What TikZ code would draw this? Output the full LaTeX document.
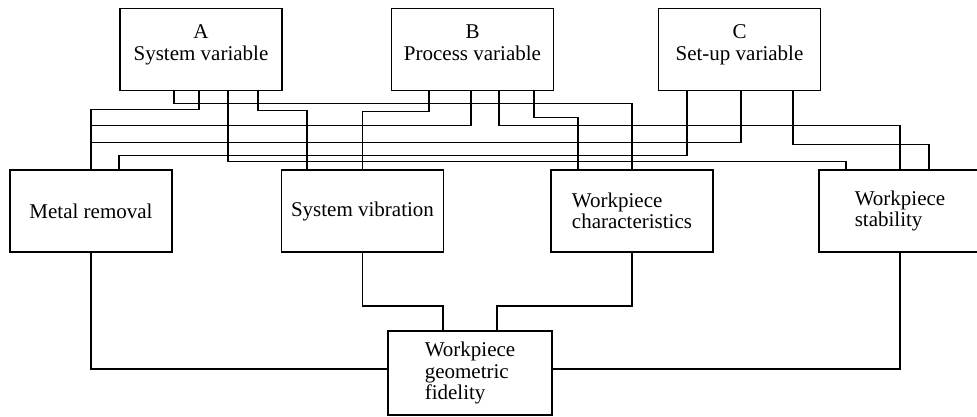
\documentclass[tikz,border=0pt]{standalone}
\usepackage{fontspec}
\setmainfont{Liberation Serif}
\usetikzlibrary{calc}

\begin{document}
\begin{tikzpicture}[
		x=1pt, y=-1pt,
		box/.style={draw, line width=1.8pt, minimum width=162pt, minimum height=82pt,
			font=\fontsize{21}{21.5}\selectfont},
		varbox/.style={box, align=center, text depth=14pt},
		wire/.style={line width=1.4pt}
	]
	\useasboundingbox (0,0) rectangle (977,417);

	\node[varbox] (sysvar) at (201,49.5) {A\\System variable};
	\node[varbox] (procvar) at (472.5,49.5) {B\\Process variable};
	\node[varbox] (setvar) at (739.5,49.5) {C\\Set-up variable};

	\node[box] (metal) at (91,211) {Metal removal};
	\node[box] (vib) at (362.5,211) {System vibration};
	\node[box, align=left] (wpchar) at (632,211) {Workpiece\\characteristics};
	\node[box, align=left] (wpstab) at (900,211) {Workpiece\\stability};

	\node[box, align=left, minimum width=164pt, minimum height=84pt] (fidelity) at (470,373)
		{Workpiece\\geometric\\fidelity};

	% A
	\draw[wire] ([xshift=-27pt]sysvar.south) -- ++(0,12) -| (wpchar.north);
	\draw[wire] ([xshift=-2pt]sysvar.south) -- ++(0,18) -| (metal.north);
	\draw[wire] ([xshift=27pt]sysvar.south) -- ++(0,70) -| ([xshift=-54pt]wpstab.north);
	\draw[wire] ([xshift=57pt]sysvar.south) -- ++(0,19) -| ([xshift=-55.5pt]vib.north);
	% B
	\draw[wire] ([xshift=-43.5pt]procvar.south) -- ++(0,20) -| (vib.north);
	\draw[wire] ([xshift=-1.5pt]procvar.south) -- ++(0,34) -| (metal.north);
	\draw[wire] ([xshift=26.5pt]procvar.south) -- ++(0,34) -| (wpstab.north);
	\draw[wire] ([xshift=61.5pt]procvar.south) -- ++(0,26) -| ([xshift=-54pt]wpchar.north);
	% C
	\draw[wire] ([xshift=-52.5pt]setvar.south) -- ++(0,64) -| ([xshift=28pt]metal.north);
	\draw[wire] ([xshift=1.5pt]setvar.south) -- ++(0,51) -| (metal.north);
	\draw[wire] ([xshift=53.5pt]setvar.south) -- ++(0,53) -| ([xshift=29pt]wpstab.north);

	\draw[wire] (metal.south) |- ([yshift=4pt]fidelity.west);
	\draw[wire] (wpstab.south) |- ([yshift=4pt]fidelity.east);
	\draw[wire] (vib.south) -- ++(0,53) -| ([xshift=-27pt]fidelity.north);
	\draw[wire] (wpchar.south) -- ++(0,53) -| ([xshift=27pt]fidelity.north);
\end{tikzpicture}
\end{document}
